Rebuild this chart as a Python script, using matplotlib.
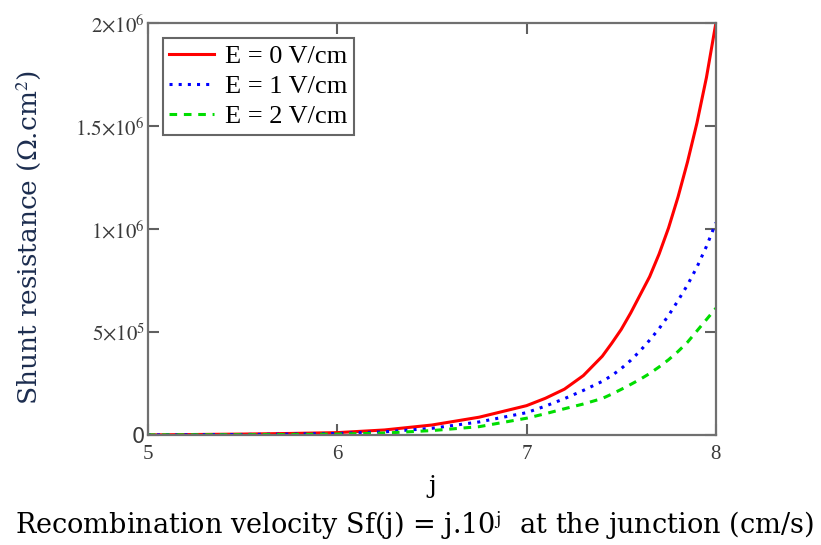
import numpy as np
import matplotlib
matplotlib.use("Agg")
from matplotlib import pyplot as plt
from matplotlib.ticker import FuncFormatter

# data (values in Ohm.cm^2)
j = [5.0, 5.25, 5.5, 5.75, 6.0, 6.25, 6.5, 6.75, 7.0, 7.1, 7.2, 7.3, 7.4, 7.45,
     7.5, 7.55, 7.6, 7.65, 7.7, 7.75, 7.8, 7.85, 7.9, 7.95, 8.0]
rsh_e0 = [0, 2e3, 4e3, 7e3, 11e3, 24e3, 48e3, 86e3, 142e3, 178e3, 222e3, 288e3, 382e3, 445e3,
          512e3, 592e3, 680e3, 768e3, 878e3, 1005e3, 1155e3, 1325e3, 1515e3, 1735e3, 2000e3]
rsh_e1 = [0, 1e3, 2e3, 4e3, 7e3, 15e3, 32e3, 63e3, 108e3, 140e3, 176e3, 216e3, 260e3, 288e3,
          322e3, 362e3, 408e3, 460e3, 516e3, 580e3, 652e3, 728e3, 815e3, 915e3, 1030e3]
rsh_e2 = [0, 0.5e3, 1e3, 2e3, 4e3, 9e3, 21e3, 40e3, 81e3, 103e3, 127e3, 150e3, 177e3, 198e3,
          221e3, 245e3, 270e3, 298e3, 330e3, 365e3, 405e3, 450e3, 505e3, 560e3, 615e3]
labels = ["E = 0 V/cm", "E = 1 V/cm", "E = 2 V/cm"]
y_ticks = [0, 5e5, 1e6, 1.5e6, 2e6]
x_ticks = [5, 6, 7, 8]

plt.rcParams['mathtext.fontset'] = 'stix'

fig = plt.figure(figsize=(8.21, 5.45), dpi=100)
ax = fig.add_axes([0.180, 0.202, 0.692, 0.756])

ax.plot(j, rsh_e0, color='#ff0000', lw=2.2, label=labels[0])
ax.plot(j, rsh_e1, color='#0000ff', lw=2.2, ls=(0, (1, 2.0)), label=labels[1])
ax.plot(j, rsh_e2, color='#00dd00', lw=2.2, ls=(0, (2.5, 2.2)), label=labels[2])

ax.set_xlim(5, 8)
ax.set_ylim(0, 2e6)
ax.set_xticks(x_ticks)
ax.set_yticks(y_ticks)


def fmt_y(v, pos):
    if v == 0:
        return "0"
    e = int(np.floor(np.log10(v)))
    m = v / 10 ** e
    ms = ("%g" % m)
    return r"$%s{\times}10^{%d}$" % (ms, e)


ax.yaxis.set_major_formatter(FuncFormatter(fmt_y))
ax.tick_params(direction='in', length=8, width=1.5, color='#606060',
               top=True, right=True, labelcolor='#3a3a3a', labelsize=15)
ax.tick_params(axis='x', pad=7)
ax.tick_params(axis='y', pad=2)
for lab in ax.get_xticklabels():
    lab.set_fontfamily('Liberation Serif')
for sp in ax.spines.values():
    sp.set_color('#707070')
    sp.set_linewidth(1.6)

ax.set_xlabel("j", fontsize=18, family='DejaVu Serif', labelpad=8)
ax.set_ylabel("Shunt resistance (Ω.cm$^2$)", fontsize=19, family='DejaVu Serif',
              color='#1c2d4f')
ax.yaxis.set_label_coords(-0.185, 0.48)

fig.text(0.505, 0.036, r"Recombination velocity Sf(j) = j.10$^{\mathrm{j}}$  at the junction (cm/s)",
         ha='center', va='center', fontsize=19.5, family='DejaVu Serif')

leg = ax.legend(loc='upper left', bbox_to_anchor=(0.026, 0.964), borderaxespad=0,
                prop={'family': 'Liberation Serif', 'size': 19},
                frameon=True, fancybox=False, handlelength=1.7,
                borderpad=0.25, labelspacing=0.25, handletextpad=0.4)
leg.get_frame().set_edgecolor('#404040')
leg.get_frame().set_linewidth(1.5)

fig.savefig("out.png", dpi=100)
